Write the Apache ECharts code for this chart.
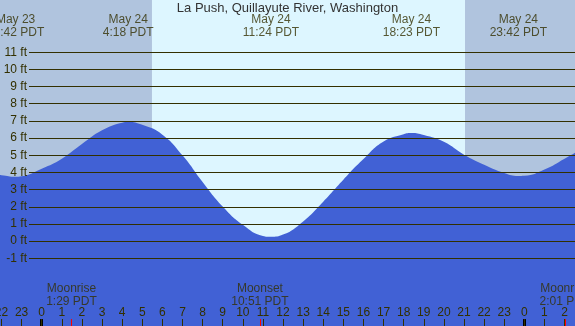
<!DOCTYPE html>
<html>
<head>
<meta charset="utf-8">
<script src="https://cdn.jsdelivr.net/npm/echarts@6/dist/echarts.min.js"></script>
<style>
  html, body { margin: 0; padding: 0; background: #b0c4de; }
  #chart { width: 575px; height: 326px; }
</style>
</head>
<body>
<div id="chart"></div>
<script>
// hours from midnight May 24 (negative = May 23)
const tideHours = [-2.2, -2, -1.3, -1, 0, 1, 2, 3, 4, 4.3, 5, 6, 7, 8, 9, 10, 11, 11.4, 12, 13, 14, 15, 16, 17, 18, 18.38, 19, 20, 21, 22, 23, 23.7, 24, 25, 26, 26.6];
const tideFeet = [3.88, 3.84, 3.75, 3.78, 4.22, 4.8, 5.65, 6.45, 6.9, 6.94, 6.77, 6.2, 5.0, 3.45, 2.02, 0.95, 0.3, 0.25, 0.38, 1.15, 2.3, 3.58, 4.78, 5.8, 6.23, 6.3, 6.18, 5.78, 5.03, 4.45, 3.97, 3.8, 3.81, 4.17, 4.8, 5.2];

const extremeHours = [-1.3, 4.3, 11.4, 18.383, 23.7];
const extremeLabels = ['May 23\n22:42 PDT', 'May 24\n4:18 PDT', 'May 24\n11:24 PDT', 'May 24\n18:23 PDT', 'May 24\n23:42 PDT'];

const moonHours = [1.483, 10.85, 26.017];
const moonLabels = ['Moonrise\n1:29 PDT', 'Moonset\n10:51 PDT', 'Moonrise\n2:01 PDT'];

const sunrise = 5.483, sunset = 21.05;
const midnights = [0, 24];
const ftLevels = [-1, 0, 1, 2, 3, 4, 5, 6, 7, 8, 9, 10, 11];
const hourTicks = [-2, -1, 0, 1, 2, 3, 4, 5, 6, 7, 8, 9, 10, 11, 12, 13, 14, 15, 16, 17, 18, 19, 20, 21, 22, 23, 24, 25, 26];

const X_MIN = -2.0736, X_MAX = 26.519;
const Y_MIN = -4.94, Y_MAX = 14.04;
const LINE_START = -0.632;
const TICK_TOP = -4.537;
const TOP_LABEL_Y = 12.5, MOON_LABEL_Y = -3.15;

const FONT = 'Liberation Sans';
const dark = '#333000';

var chart = echarts.init(document.getElementById('chart'));

chart.setOption({
    backgroundColor: '#b0c4de',
    animation: false,
    title: {
        text: 'La Push, Quillayute River, Washington',
        left: 'center',
        top: -3,
        textStyle: { fontFamily: FONT, fontSize: 13, fontWeight: 'normal', color: '#333' }
    },
    grid: { left: 0, right: 0, top: 0, bottom: 0, outerBoundsMode: 'none', containLabel: false },
    xAxis: {
        type: 'value',
        min: X_MIN,
        max: X_MAX,
        z: 10,
        axisLine: { show: false, onZero: false },
        splitLine: { show: false },
        axisTick: { show: true, inside: true, length: 7, customValues: hourTicks, lineStyle: { color: dark } },
        axisLabel: {
            inside: true,
            margin: 7,
            customValues: hourTicks,
            showMinLabel: true, showMaxLabel: true,
            fontFamily: FONT, fontSize: 12, color: dark,
            formatter: v => String(((v % 24) + 24) % 24)
        }
    },
    yAxis: {
        type: 'value', min: Y_MIN, max: Y_MAX,
        show: false
    },
    series: [{
        // daylight band
        type: 'line', data: [], z: 1,
        markArea: {
            silent: true,
            itemStyle: { color: '#ddf6ff' },
            data: [[{ xAxis: sunrise, yAxis: Y_MIN }, { xAxis: sunset, yAxis: Y_MAX }]]
        }
    }, {
        name: 'tide',
        type: 'line',
        z: 2,
        smooth: 0.5,
        symbol: 'none',
        lineStyle: { width: 0 },
        areaStyle: { color: '#4161d5', opacity: 1, origin: 'start' },
        data: tideHours.map((h, i) => [h, tideFeet[i]])
    }, {
        // foot lines and ticks
        type: 'line', data: [], z: 3,
        markLine: {
            silent: true,
            symbol: ['none', 'none'],
            animation: false,
            data: ftLevels.map(v => [
                { coord: [LINE_START, v], lineStyle: { color: dark, width: 1, type: 'solid' },
                  label: { show: true, position: 'start', distance: 2, formatter: v + ' ft',
                           fontFamily: FONT, fontSize: 12, color: dark } },
                { coord: [X_MAX, v] }
            ]).concat(midnights.map(h => [
                { coord: [h, Y_MIN], lineStyle: { color: '#000', width: 3, type: 'solid' }, label: { show: false } },
                { coord: [h, TICK_TOP] }
            ])).concat(moonHours.map(h => [
                { coord: [h, Y_MIN], lineStyle: { color: '#f00', width: 1, type: 'solid' }, label: { show: false } },
                { coord: [h, TICK_TOP] }
            ]))
        }
    }, {
        type: 'scatter', z: 4,
        symbolSize: 1,
        itemStyle: { color: 'rgba(0,0,0,0)' },
        label: {
            show: true, position: 'inside', lineHeight: 13,
            fontFamily: FONT, fontSize: 12, color: dark,
            formatter: p => p.data[2]
        },
        data: extremeHours.map((h, i) => [h, TOP_LABEL_Y, extremeLabels[i]])
            .concat(moonHours.map((h, i) => [h, MOON_LABEL_Y, moonLabels[i]]))
    }]
});
</script>
</body>
</html>
